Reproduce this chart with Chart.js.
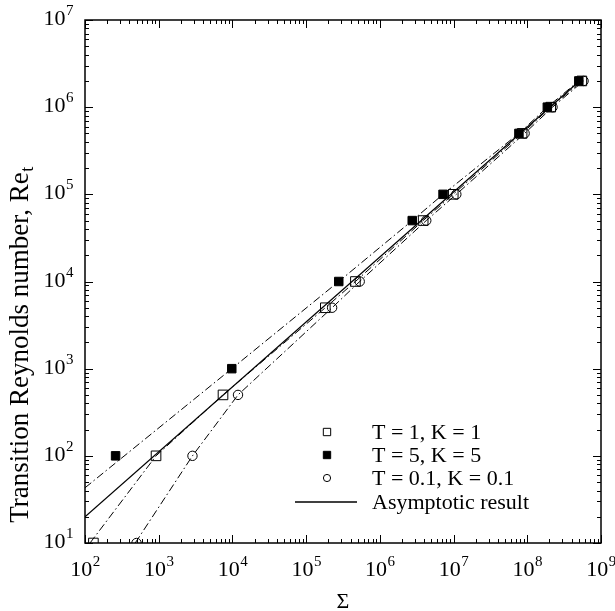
<!DOCTYPE html>
<html>
<head>
<meta charset="utf-8">
<script src="https://cdn.jsdelivr.net/npm/chart.js@4.4.1/dist/chart.umd.min.js"></script>
<style>
  html, body { margin: 0; padding: 0; background: #fff; }
  #wrap { width: 615px; height: 611px; position: relative; }
</style>
</head>
<body>
<div id="wrap"><canvas id="chart"></canvas></div>
<script>
// hodnoty (Sigma, Re_t)
const sigmaT1 = [130, 920, 7450, 1.82e5, 4.66e5, 3.87e6, 9.9e6, 8.5e7, 2.08e8, 5.5e8];
const reT1 = [10, 100, 500, 5000, 1e4, 5e4, 1e5, 5e5, 1e6, 2e6];

const sigmaT5 = [260, 9800, 2.77e5, 2.75e6, 7.2e6, 7.7e7, 1.87e8, 5.0e8];
const reT5 = [100, 1000, 1e4, 5e4, 1e5, 5e5, 1e6, 2e6];

const sigmaT01 = [500, 2870, 11900, 2.25e5, 5.33e5, 4.26e6, 1.09e7, 9.2e7, 2.2e8, 5.8e8];
const reT01 = [10, 100, 500, 5000, 1e4, 5e4, 1e5, 5e5, 1e6, 2e6];

// čerchované křivky
const fitT1Sigma = [117, 920, 7450, 1.82e5, 4.66e5, 3.87e6, 9.9e6, 8.5e7, 2.08e8, 5.5e8];
const fitT1Re = [10, 100, 500, 5000, 1e4, 5e4, 1e5, 5e5, 1e6, 2e6];
const fitT5Sigma = [100, 9800, 2.77e5, 2.75e6, 7.2e6, 7.7e7, 1.87e8, 5.0e8];
const fitT5Re = [43, 1000, 1e4, 5e4, 1e5, 5e5, 1e6, 2e6];
const fitT01Sigma = [480, 2870, 11900, 2.25e5, 5.33e5, 4.26e6, 1.09e7, 9.2e7, 2.2e8, 5.8e8];
const fitT01Re = [10, 100, 500, 5000, 1e4, 5e4, 1e5, 5e5, 1e6, 2e6];

// asymptotické řešení
const asymSigma = [100, 5.5e8];
const asymRe = [20, 2.1e6];

// osy
const xExps = [2, 3, 4, 5, 6, 7, 8, 9];
const yExps = [1, 2, 3, 4, 5, 6, 7];

const legendLabels = ["T = 1, K = 1", "T = 5, K = 5", "T = 0.1, K = 0.1", "Asymptotic result"];

const pts = (xs, ys) => xs.map((v, i) => ({ x: v, y: ys[i] }));
const DASHDOT = [8, 3, 1.5, 3];
const SERIF = "'Liberation Serif', 'Times New Roman', serif";

const markerSets = [
  { label: legendLabels[0], data: pts(sigmaT1, reT1), pointStyle: "rect", pointRadius: 6.8,
    backgroundColor: "rgba(0,0,0,0)", borderColor: "#000", pointBorderWidth: 1, showLine: false },
  { label: legendLabels[1], data: pts(sigmaT5, reT5), pointStyle: "rect", pointRadius: 6,
    backgroundColor: "#000", borderColor: "#000", pointBorderWidth: 1, showLine: false },
  { label: legendLabels[2], data: pts(sigmaT01, reT01), pointStyle: "circle", pointRadius: 4.7,
    backgroundColor: "rgba(0,0,0,0)", borderColor: "#000", pointBorderWidth: 1, showLine: false },
];

const lineSets = [
  { label: "fitT1", data: pts(fitT1Sigma, fitT1Re), borderDash: DASHDOT, borderWidth: 1 },
  { label: "fitT5", data: pts(fitT5Sigma, fitT5Re), borderDash: DASHDOT, borderWidth: 1 },
  { label: "fitT01", data: pts(fitT01Sigma, fitT01Re), borderDash: DASHDOT, borderWidth: 1 },
  { label: legendLabels[3], data: pts(asymSigma, asymRe), borderDash: [], borderWidth: 1.3 },
].map((d) => ({ ...d, showLine: true, pointRadius: 0, borderColor: "#000", backgroundColor: "#000", fill: false, tension: 0 }));

// osy, popisky a legenda kreslené ručně
const framePlugin = {
  id: "frame",
  afterDraw(chart) {
    const { ctx, chartArea: a, scales } = chart;
    const xs = scales.x, ys = scales.y;
    ctx.save();
    ctx.strokeStyle = "#000";
    ctx.fillStyle = "#000";
    ctx.lineWidth = 1.5;
    ctx.strokeRect(a.left, a.top, a.right - a.left, a.bottom - a.top);

    // ticky dovnitř na všech stranách
    ctx.lineWidth = 1;
    ctx.beginPath();
    xExps.forEach((e, i) => {
      for (let m = 1; m <= 9; m++) {
        if (i === xExps.length - 1 && m > 1) break;
        const px = Math.round(xs.getPixelForValue(m * Math.pow(10, e))) + 0.5;
        const len = m === 1 ? 8 : 4;
        ctx.moveTo(px, a.bottom); ctx.lineTo(px, a.bottom - len);
        ctx.moveTo(px, a.top); ctx.lineTo(px, a.top + len);
      }
    });
    yExps.forEach((e, i) => {
      for (let m = 1; m <= 9; m++) {
        if (i === yExps.length - 1 && m > 1) break;
        const py = Math.round(ys.getPixelForValue(m * Math.pow(10, e))) + 0.5;
        const len = m === 1 ? 8 : 4;
        ctx.moveTo(a.left, py); ctx.lineTo(a.left + len, py);
        ctx.moveTo(a.right, py); ctx.lineTo(a.right - len, py);
      }
    });
    ctx.stroke();

    // popisky 10^n
    const baseFont = "22px " + SERIF, supFont = "15px " + SERIF;
    const power = (exp, x, y, align) => {
      ctx.font = baseFont;
      const w1 = ctx.measureText("10").width;
      ctx.font = supFont;
      const w2 = ctx.measureText(String(exp)).width;
      const x0 = align === "center" ? x - (w1 + w2) / 2 : x - (w1 + w2);
      ctx.textAlign = "left";
      ctx.textBaseline = "alphabetic";
      ctx.font = baseFont;
      ctx.fillText("10", x0, y);
      ctx.font = supFont;
      ctx.fillText(String(exp), x0 + w1 + 0.5, y - 10);
    };
    xExps.forEach((e) => power(e, xs.getPixelForValue(Math.pow(10, e)), a.bottom + 33, "center"));
    yExps.forEach((e) => power(e, a.left - 12, ys.getPixelForValue(Math.pow(10, e)) + 5, "right"));

    // název osy x
    ctx.font = "22px " + SERIF;
    ctx.textAlign = "center";
    ctx.fillText("\u03A3", (a.left + a.right) / 2, a.bottom + 65);

    // název osy y s indexem
    ctx.save();
    ctx.translate(28, 345);
    ctx.rotate(-Math.PI / 2);
    const t1 = "Transition Reynolds number, Re";
    ctx.font = "27px " + SERIF;
    const tw = ctx.measureText(t1).width;
    ctx.font = "18px " + SERIF;
    const sw = ctx.measureText("t").width;
    const sx = -(tw + sw) / 2;
    ctx.textAlign = "left";
    ctx.font = "27px " + SERIF;
    ctx.fillText(t1, sx, 0);
    ctx.font = "18px " + SERIF;
    ctx.fillText("t", sx + tw + 0.5, 5);
    ctx.restore();

    // legenda uvnitř grafu
    const rows = [432, 455, 478, 502];
    const symX = 327, textX = 372;
    ctx.font = "22px " + SERIF;
    ctx.textAlign = "left";
    ctx.textBaseline = "middle";
    markerSets.forEach((d, i) => {
      ctx.save();
      ctx.lineWidth = 1;
      ctx.strokeStyle = "#000";
      ctx.fillStyle = d.backgroundColor;
      Chart.helpers.drawPoint(ctx, {
        pointStyle: d.pointStyle,
        radius: d.pointStyle === "rect" ? 5.2 : 3.6,
        rotation: 0,
        borderWidth: 1,
      }, symX, rows[i]);
      ctx.restore();
      ctx.fillStyle = "#000";
      ctx.fillText(d.label, textX, rows[i] + 1);
    });
    ctx.lineWidth = 1.3;
    ctx.beginPath();
    ctx.moveTo(295, rows[3]); ctx.lineTo(357, rows[3]);
    ctx.stroke();
    ctx.fillText(legendLabels[3], textX, rows[3] + 1);

    ctx.restore();
  },
};

const axisOpts = (min, max) => ({
  type: "logarithmic",
  min, max,
  ticks: { display: false },
  grid: { display: false, drawTicks: false },
  border: { display: false },
});

new Chart(document.getElementById("chart"), {
  type: "scatter",
  data: { datasets: [...lineSets, ...markerSets] },
  options: {
    responsive: true,
    maintainAspectRatio: false,
    animation: false,
    layout: { padding: { left: 85, right: 14, top: 20, bottom: 68 } },
    plugins: { legend: { display: false }, tooltip: { enabled: false } },
    scales: { x: axisOpts(100, 1e9), y: axisOpts(10, 1e7) },
  },
  plugins: [framePlugin],
});
</script>
</body>
</html>
